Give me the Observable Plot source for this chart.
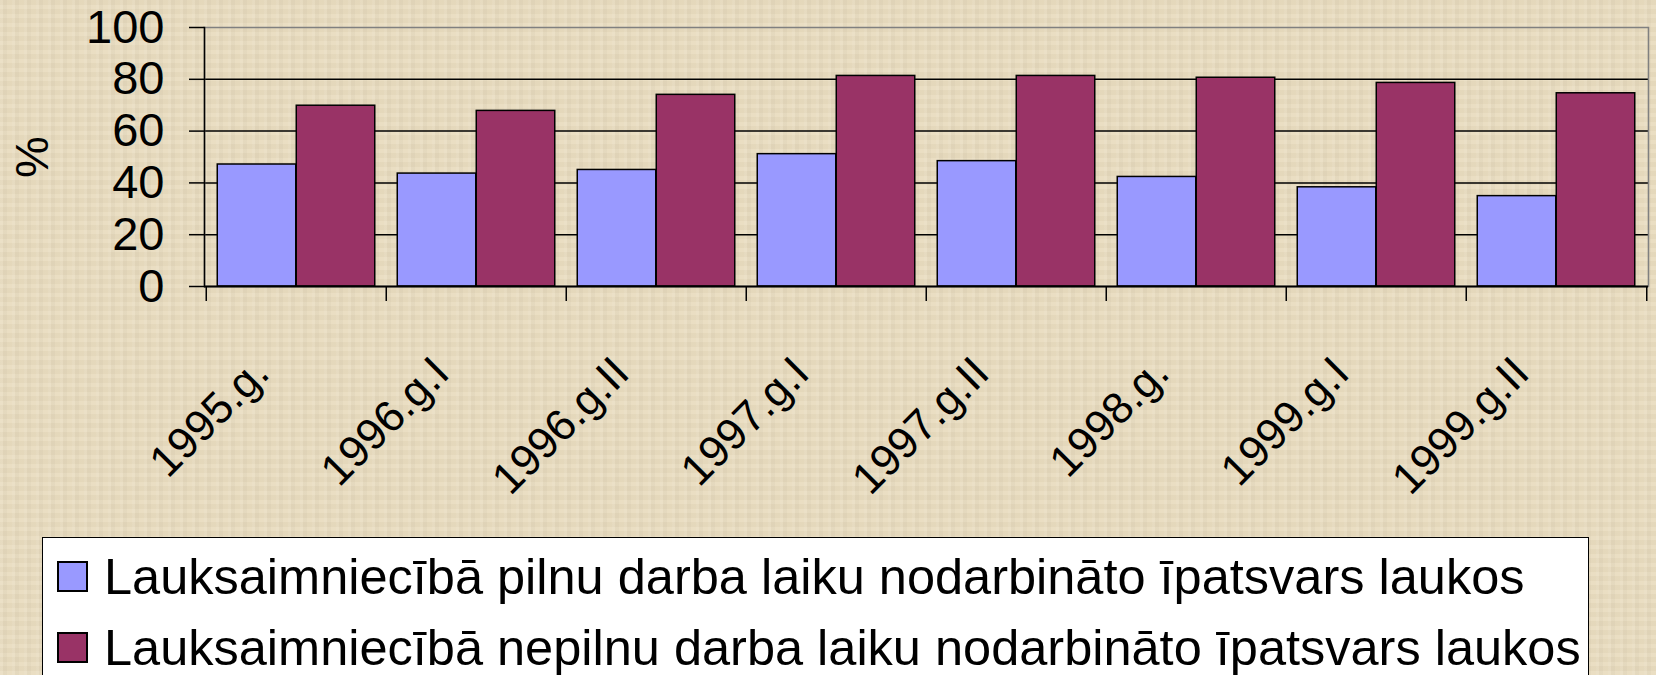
<!DOCTYPE html>
<html>
<head>
<meta charset="utf-8">
<script src="https://cdn.jsdelivr.net/npm/d3@7"></script>
<script src="https://cdn.jsdelivr.net/npm/@observablehq/plot@0.6"></script>
<style>
  html, body { margin: 0; padding: 0; }
  body {
    width: 1656px; height: 675px; overflow: hidden;
    background-color: #e9dcbf;
    background-image:
      repeating-linear-gradient(90deg, rgba(255,255,255,0.07) 0 3px, rgba(0,0,0,0.025) 3px 7px, rgba(255,255,255,0) 7px 12px),
      repeating-linear-gradient(0deg, rgba(255,255,255,0.06) 0 4px, rgba(0,0,0,0.02) 4px 9px);
    font-family: "Liberation Sans", Arial, sans-serif;
  }
  #chart svg { display: block; }
  #legend {
    margin-left: 42px; width: 1547px; height: 200px; box-sizing: border-box;
    background: white; border: 1.5px solid black; padding-top: 3px;
  }
  #legend .row { display: flex; align-items: center; height: 71px; }
  #legend .sw { width: 31px; height: 31px; box-sizing: border-box; border: 2px solid black; margin-left: 14px; margin-right: 16px; flex: none; }
  #legend .lab { font-size: 50.5px; color: black; white-space: nowrap; }
</style>
</head>
<body>
<div id="chart"></div>
<div id="legend"></div>
<script>
const categories = ["1995.g.", "1996.g.I", "1996.g.II", "1997.g.I", "1997.g.II", "1998.g.", "1999.g.I", "1999.g.II"];
const fullTime = [47.1, 43.6, 45.0, 51.1, 48.4, 42.3, 38.3, 34.9];
const partTime = [69.8, 67.8, 74.0, 81.3, 81.3, 80.6, 78.6, 74.6];
const seriesNames = [
  "Lauksaimniecībā pilnu darba laiku nodarbināto īpatsvars laukos",
  "Lauksaimniecībā nepilnu darba laiku nodarbināto īpatsvars laukos"
];
const seriesColors = ["#9999ff", "#993366"];
const yTicks = [0, 20, 40, 60, 80, 100];
const gridValues = [20, 40, 60, 80];
const yLabel = "%";

const rows = categories.map((c, i) => ({cat: c, full: fullTime[i], part: partTime[i]}));

const W = 1656, H = 537, mL = 204, mR = 8, mT = 27, mB = 251;
const bw = (W - mL - mR) / categories.length;
const outer = 11.25;

const chart = Plot.plot({
  width: W, height: H,
  marginLeft: mL, marginRight: mR, marginTop: mT, marginBottom: mB,
  style: {background: "transparent", fontFamily: "'Liberation Sans', Arial, sans-serif", color: "black", overflow: "visible"},
  x: {domain: categories, padding: 0, axis: null},
  y: {domain: [0, 100], axis: null},
  marks: [
    Plot.ruleY(gridValues, {stroke: "black", strokeWidth: 1.5}),
    Plot.frame({stroke: "#808080", strokeWidth: 1.5}),
    Plot.barY(rows, {x: "cat", y: "full", fill: seriesColors[0], stroke: "black", strokeWidth: 1.5, insetLeft: outer, insetRight: bw / 2}),
    Plot.barY(rows, {x: "cat", y: "part", fill: seriesColors[1], stroke: "black", strokeWidth: 1.5, insetLeft: bw / 2, insetRight: outer}),
    Plot.ruleY([0], {stroke: "black", strokeWidth: 2}),
    Plot.frame({anchor: "left", stroke: "black", strokeWidth: 1.5}),
    Plot.axisY(yTicks, {tickSize: 15, tickPadding: 25, fontSize: 47, strokeWidth: 1.5, label: null}),
    Plot.axisX(categories, {tickSize: 15, dx: -bw / 2, tickFormat: () => "", strokeWidth: 1.5, label: null}),
    Plot.axisX([categories[categories.length - 1]], {tickSize: 15, dx: bw / 2, tickFormat: () => "", strokeWidth: 1.5, label: null}),
    Plot.text(categories, {x: d => d, frameAnchor: "bottom", dy: 79, dx: -35, rotate: -45, textAnchor: "end", lineAnchor: "middle", fontSize: 44, fill: "black"}),
    Plot.text([yLabel], {frameAnchor: "left", dx: -172, rotate: -90, textAnchor: "middle", lineAnchor: "middle", fontSize: 47, fill: "black"})
  ]
});
document.getElementById("chart").append(chart);

const legend = document.getElementById("legend");
seriesNames.forEach((name, i) => {
  const row = document.createElement("div");
  row.className = "row";
  const sw = document.createElement("span");
  sw.className = "sw";
  sw.style.background = seriesColors[i];
  const lab = document.createElement("span");
  lab.className = "lab";
  lab.textContent = name;
  row.append(sw, lab);
  legend.append(row);
});
</script>
</body>
</html>
